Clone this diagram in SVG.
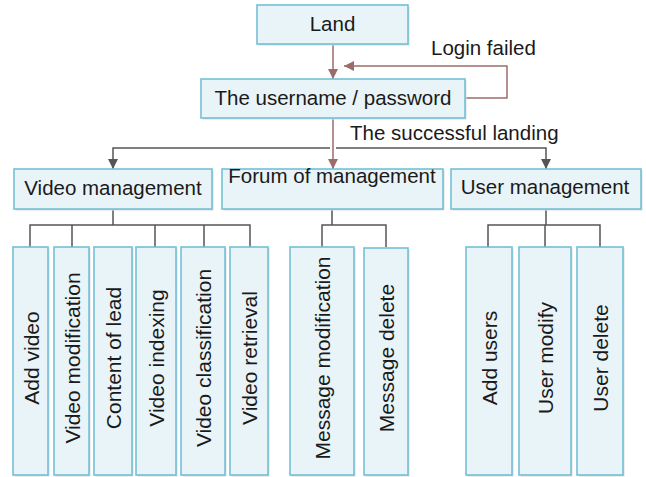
<svg xmlns="http://www.w3.org/2000/svg" width="646" height="477" viewBox="0 0 646 477">
<defs>
<style>
.box{fill:#e9f4f8;stroke:#74c0d6;stroke-width:1.6}
.sh{fill:#dcdcdc}
.t{font-family:"Liberation Sans",Arial,sans-serif;font-size:20.5px;fill:#1a1a1a}
.v{font-family:"Liberation Sans",Arial,sans-serif;font-size:21px;fill:#1a1a1a;text-anchor:middle}
.c{text-anchor:middle}
.red{fill:none;stroke:#9e6b6b;stroke-width:1.5}
.gray{fill:none;stroke:#555;stroke-width:1.5}
</style>
<marker id="ar" viewBox="0 0 10 10" refX="10" refY="5" markerWidth="10" markerHeight="10" markerUnits="userSpaceOnUse" orient="auto"><path d="M0,0 L10,5 L0,10 z" fill="#9e6b6b"/></marker>
<marker id="ag" viewBox="0 0 10 10" refX="10" refY="5" markerWidth="10" markerHeight="10" markerUnits="userSpaceOnUse" orient="auto"><path d="M0,0 L10,5 L0,10 z" fill="#555"/></marker>
</defs>
<rect width="646" height="477" fill="#fff"/>
<g id="connectors">
<path class="red" d="M333,44 V79" marker-end="url(#ar)"/>
<path class="red" d="M465,98 H507 V66 H344" marker-end="url(#ar)"/>
<path class="red" d="M333,118 V169" marker-end="url(#ar)"/>
<path class="gray" d="M330,148 H113 V169" marker-end="url(#ag)"/>
<path class="gray" d="M336,148 H546 V169" marker-end="url(#ag)"/>
<path class="gray" d="M113,209 V225 M30,247 V225 H250 V247 M72,225 V247 M155,225 V247 M204,225 V247"/>
<path class="gray" d="M332,209 V225 M322,247 V225 H386 V247"/>
<path class="gray" d="M546,209 V225 M488,247 V225 H600 V247 M545,225 V247"/>
<text class="t" x="431" y="55">Login failed</text>
<text class="t" x="350" y="140">The successful landing</text>
</g>
<g id="land"><rect class="sh" x="258.5" y="6.5" width="151" height="39"/><rect class="box" x="257" y="5" width="151" height="39"/><text class="t c" x="332.5" y="31">Land</text></g>
<g id="login"><rect class="sh" x="202.5" y="80.5" width="264" height="39"/><rect class="box" x="201" y="79" width="264" height="39"/><text class="t c" x="333" y="105">The username / password</text></g>
<g id="video-mgmt"><rect class="sh" x="15.5" y="170.5" width="198" height="40"/><rect class="box" x="14" y="169" width="198" height="40"/><text class="t c" x="113" y="195">Video management</text></g>
<g id="forum-mgmt"><rect class="sh" x="223.5" y="170.5" width="221" height="40"/><rect class="box" x="222" y="169" width="221" height="40"/><text class="t c" x="332" y="183">Forum of management</text></g>
<g id="user-mgmt"><rect class="sh" x="452.5" y="170.5" width="190" height="40"/><rect class="box" x="451" y="169" width="190" height="40"/><text class="t c" x="545" y="194">User management</text></g>
<g id="add-video"><rect class="sh" x="14.5" y="248.5" width="35" height="228"/><rect class="box" x="13" y="247" width="35" height="228"/><text class="v" transform="translate(30.5,358) rotate(-90)" y="8">Add video</text></g>
<g id="video-mod"><rect class="sh" x="55.5" y="248.5" width="35" height="228"/><rect class="box" x="54" y="247" width="35" height="228"/><text class="v" transform="translate(71.5,358) rotate(-90)" y="8">Video modification</text></g>
<g id="content-lead"><rect class="sh" x="95.5" y="248.5" width="38" height="228"/><rect class="box" x="94" y="247" width="38" height="228"/><text class="v" transform="translate(113,358) rotate(-90)" y="8">Content of lead</text></g>
<g id="video-index"><rect class="sh" x="137.5" y="248.5" width="40" height="228"/><rect class="box" x="136" y="247" width="40" height="228"/><text class="v" transform="translate(156,358) rotate(-90)" y="8">Video indexing</text></g>
<g id="video-class"><rect class="sh" x="182.5" y="248.5" width="44" height="228"/><rect class="box" x="181" y="247" width="44" height="228"/><text class="v" transform="translate(203,358) rotate(-90)" y="8">Video classification</text></g>
<g id="video-retr"><rect class="sh" x="231.5" y="248.5" width="38" height="228"/><rect class="box" x="230" y="247" width="38" height="228"/><text class="v" transform="translate(249,358) rotate(-90)" y="8">Video retrieval</text></g>
<g id="msg-mod"><rect class="sh" x="291.5" y="248.5" width="64" height="228"/><rect class="box" x="290" y="247" width="64" height="228"/><text class="v" transform="translate(322,358) rotate(-90)" y="8">Message modification</text></g>
<g id="msg-del"><rect class="sh" x="365.5" y="249.5" width="44" height="227"/><rect class="box" x="364" y="248" width="44" height="227"/><text class="v" transform="translate(386,358) rotate(-90)" y="8">Message delete</text></g>
<g id="add-users"><rect class="sh" x="467.5" y="248.5" width="46" height="228"/><rect class="box" x="466" y="247" width="46" height="228"/><text class="v" transform="translate(489,358) rotate(-90)" y="8">Add users</text></g>
<g id="user-modify"><rect class="sh" x="520.5" y="248.5" width="52" height="228"/><rect class="box" x="519" y="247" width="52" height="228"/><text class="v" transform="translate(545,358) rotate(-90)" y="8">User modify</text></g>
<g id="user-delete"><rect class="sh" x="578.5" y="248.5" width="46" height="228"/><rect class="box" x="577" y="247" width="46" height="228"/><text class="v" transform="translate(600,358) rotate(-90)" y="8">User delete</text></g>
</svg>
